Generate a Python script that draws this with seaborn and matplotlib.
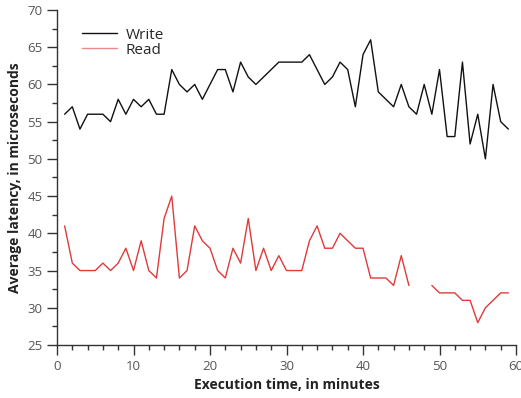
import matplotlib
matplotlib.use("Agg")
import matplotlib.pyplot as plt
from matplotlib.ticker import MultipleLocator
import numpy as np
import pandas as pd
import seaborn as sns

minutes = list(range(1, 60))

write_us = [56, 57, 54, 56, 56, 56, 55, 58, 56, 58,
            57, 58, 56, 56, 62, 60, 59, 60, 58, 60,
            62, 62, 59, 63, 61, 60, 61, 62, 63, 63,
            63, 63, 64, 62, 60, 61, 63, 62, 57, 64,
            66, 59, 58, 57, 60, 57, 56, 60, 56, 62,
            53, 53, 63, 52, 56, 50, 60, 55, 54]

# minutes 47 and 48 have no read sample (gap in the line)
read_us = [41, 36, 35, 35, 35, 36, 35, 36, 38, 35,
           39, 35, 34, 42, 45, 34, 35, 41, 39, 38,
           35, 34, 38, 36, 42, 35, 38, 35, 37, 35,
           35, 35, 39, 41, 38, 38, 40, 39, 38, 38,
           34, 34, 34, 33, 37, 33, np.nan, np.nan, 33, 32,
           32, 32, 31, 31, 28, 30, 31, 32, 32]


def build_frame():
    rows = []
    for name, vals in [("Write", write_us), ("Read", read_us)]:
        seg = 0
        for m, v in zip(minutes, vals):
            if np.isnan(v):
                seg += 1
                continue
            rows.append({"minute": m, "latency": v, "series": name,
                         "seg": f"{name}-{seg}"})
    return pd.DataFrame(rows)


if __name__ == "__main__":
    sns.set_style("ticks")
    plt.rcParams["font.family"] = ["Open Sans", "DejaVu Sans"]

    df = build_frame()

    fig = plt.figure(figsize=(5.21, 3.98), dpi=100)
    ax = fig.add_axes([57 / 521, 1 - 345 / 398, 459 / 521, 335 / 398])

    sns.lineplot(data=df, x="minute", y="latency", hue="series",
                 units="seg", estimator=None,
                 palette={"Write": "#111111", "Read": "#e03a3a"},
                 linewidth=1.0, ax=ax)

    ax.set_xlim(0, 60)
    ax.set_ylim(25, 70)
    ax.xaxis.set_major_locator(MultipleLocator(10))
    ax.xaxis.set_minor_locator(MultipleLocator(2))
    ax.yaxis.set_major_locator(MultipleLocator(5))
    ax.yaxis.set_minor_locator(MultipleLocator(2.5))
    ax.tick_params(which="major", length=7, width=1, color="#333333",
                   labelsize=9.5, labelcolor="#555555")
    ax.tick_params(which="minor", length=3.5, width=1, color="#333333")
    for s in ["left", "bottom"]:
        ax.spines[s].set_color("#333333")
        ax.spines[s].set_linewidth(1)
    sns.despine(ax=ax)

    ax.set_xlabel("Execution time, in minutes", fontsize=10,
                  fontweight="bold", color="#222222")
    ax.set_ylabel("Average latency, in microseconds", fontsize=10,
                  fontweight="bold", color="#222222")

    handles, labels = ax.get_legend_handles_labels()
    handles[1].set_alpha(0.6)
    ax.legend(handles, labels, loc="upper left", frameon=False,
              fontsize=11, bbox_to_anchor=(0.035, 0.975), handlelength=2.3,
              handletextpad=0.55, borderaxespad=0.2, labelspacing=0.0)

    fig.savefig("out.png", dpi=100)
